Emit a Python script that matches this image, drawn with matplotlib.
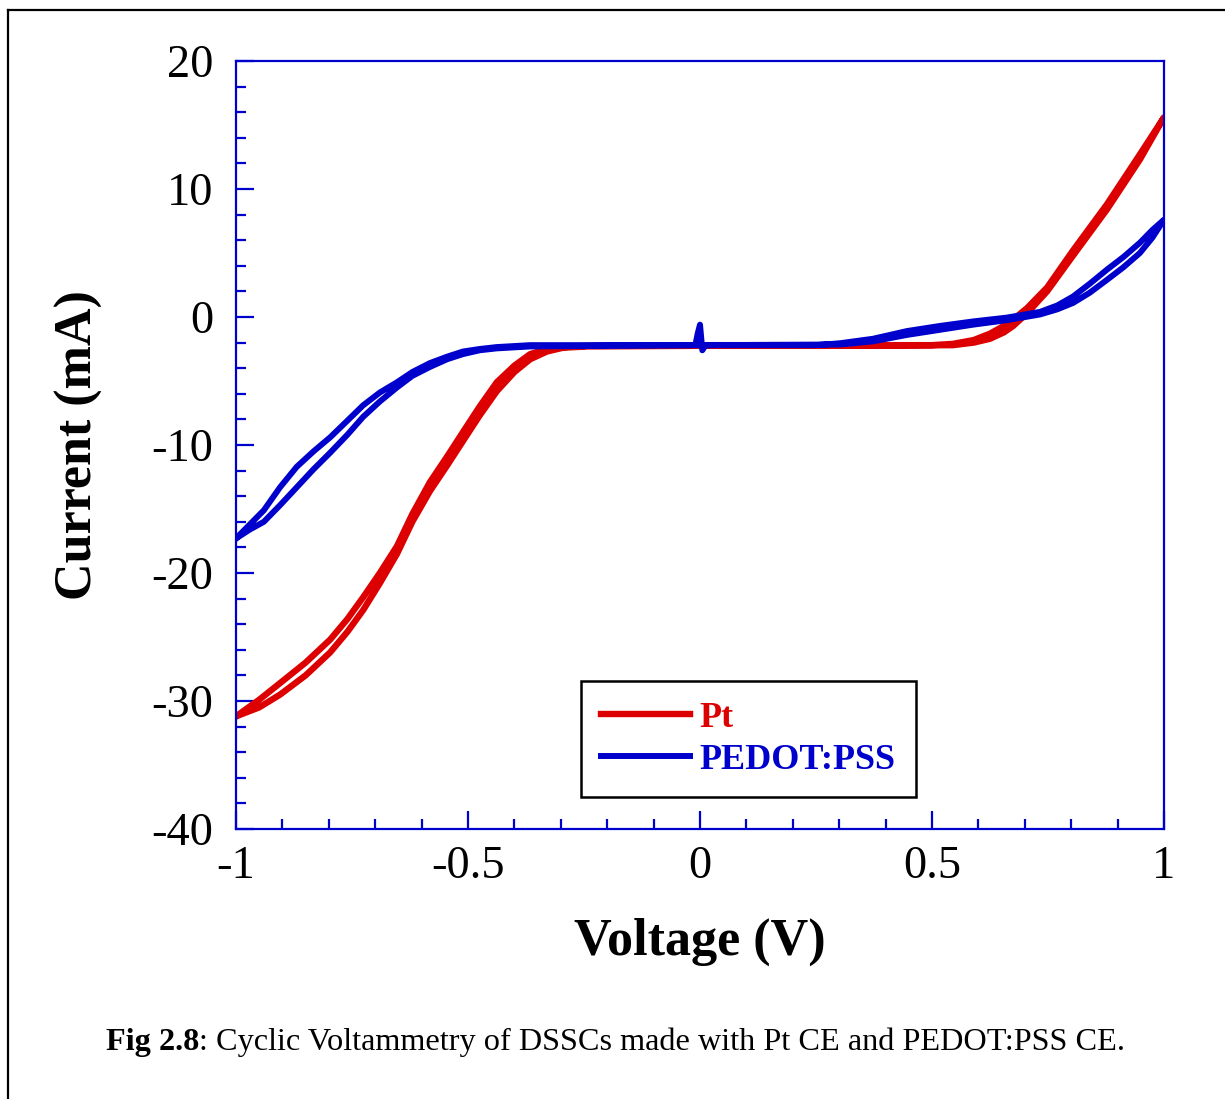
import numpy as np
import matplotlib.pyplot as plt
from matplotlib.lines import Line2D

plt.rcParams['font.family'] = 'Liberation Serif'
plt.rcParams['axes.unicode_minus'] = False

RED = '#dd0000'
BLUE = '#0000cc'

# Pt counter electrode, sweep -1 -> 1 V
pt_v_fwd = [-1.0, -0.95, -0.905, -0.85, -0.797, -0.76, -0.726, -0.69, -0.653, -0.62,
            -0.582, -0.545, -0.511, -0.475, -0.438, -0.40, -0.366, -0.33, -0.295, -0.243,
            0.0, 0.3, 0.545, 0.59, 0.625, 0.655, 0.675, 0.705, 0.748, 0.804, 0.877, 0.948, 1.0]
pt_i_fwd = [-31.2, -30.5, -29.5, -28.0, -26.2, -24.6, -22.9, -20.8, -18.5, -16.0,
            -13.6, -11.6, -9.7, -7.7, -5.8, -4.3, -3.3, -2.7, -2.4, -2.3,
            -2.25, -2.25, -2.2, -2.0, -1.7, -1.2, -0.7, 0.3, 2.0, 4.8, 8.4, 12.3, 15.6]

# Pt, sweep 1 -> -1 V
pt_v_rev = [1.0, 0.948, 0.877, 0.804, 0.748, 0.705, 0.675, 0.655, 0.625, 0.59, 0.545, 0.5,
            0.0, -0.243, -0.295, -0.33, -0.366, -0.40, -0.438, -0.475, -0.511, -0.545,
            -0.582, -0.62, -0.653, -0.69, -0.726, -0.76, -0.797, -0.85, -0.905, -0.95, -1.0]
pt_i_rev = [15.6, 12.7, 8.8, 5.2, 2.3, 0.7, -0.2, -0.7, -1.3, -1.8, -2.1, -2.2,
            -2.2, -2.25, -2.35, -2.5, -2.9, -3.8, -5.1, -7.0, -9.0, -10.9,
            -12.9, -15.4, -17.9, -20.0, -21.9, -23.6, -25.2, -27.0, -28.6, -29.9, -31.2]

# PEDOT:PSS counter electrode, sweep -1 -> 1 V
pedot_v_fwd = [-1.0, -0.97, -0.94, -0.905, -0.869, -0.833, -0.797, -0.76, -0.726, -0.69,
               -0.653, -0.62, -0.582, -0.545, -0.511, -0.475, -0.438, -0.366, -0.01, -0.005,
               0.0, 0.005, 0.012, 0.302, 0.373, 0.446, 0.517, 0.588, 0.661, 0.733,
               0.77, 0.804, 0.84, 0.877, 0.913, 0.948, 0.975, 1.0]
pedot_i_fwd = [-17.3, -16.6, -16.0, -14.7, -13.3, -11.9, -10.6, -9.2, -7.8, -6.6,
               -5.5, -4.6, -3.9, -3.3, -2.9, -2.6, -2.45, -2.3, -2.2, -1.3,
               -0.6, -2.6, -2.2, -2.15, -1.9, -1.4, -1.0, -0.6, -0.25, 0.2,
               0.6, 1.1, 1.9, 2.9, 3.9, 5.0, 6.2, 7.6]

# PEDOT:PSS, sweep 1 -> -1 V
pedot_v_rev = [1.0, 0.975, 0.948, 0.913, 0.877, 0.84, 0.804, 0.77, 0.733, 0.661, 0.588,
               0.517, 0.446, 0.373, 0.302, 0.25, 0.0, -0.366, -0.438, -0.475, -0.511,
               -0.545, -0.582, -0.62, -0.653, -0.69, -0.726, -0.76, -0.797, -0.833,
               -0.869, -0.905, -0.94, -0.97, -1.0]
pedot_i_rev = [7.6, 6.8, 5.8, 4.7, 3.7, 2.6, 1.6, 0.9, 0.4, -0.05, -0.35,
               -0.7, -1.1, -1.7, -2.05, -2.2, -2.2, -2.2, -2.35, -2.5, -2.7,
               -3.1, -3.6, -4.3, -5.1, -5.9, -6.9, -8.1, -9.4, -10.5,
               -11.7, -13.3, -15.1, -16.2, -17.3]

x_ticks = [-1, -0.5, 0, 0.5, 1]
x_ticklabels = ['-1', '-0.5', '0', '0.5', '1']
y_ticks = [-40, -30, -20, -10, 0, 10, 20]

fig = plt.figure(figsize=(12.25, 10.99), dpi=100)
ax = fig.add_axes([236 / 1225, 1 - 829 / 1099, 928 / 1225, 768 / 1099])

ax.plot(pt_v_fwd + pt_v_rev, pt_i_fwd + pt_i_rev, color=RED, lw=4.6,
        solid_joinstyle='round', label='Pt')
ax.plot(pedot_v_fwd + pedot_v_rev, pedot_i_fwd + pedot_i_rev, color=BLUE, lw=4.3,
        solid_joinstyle='round', label='PEDOT:PSS')

ax.set_xlim(-1, 1)
ax.set_ylim(-40, 20)
ax.set_xticks(x_ticks)
ax.set_xticklabels(x_ticklabels)
ax.set_yticks(y_ticks)
ax.set_xticks(np.arange(-1, 1.01, 0.1), minor=True)
ax.set_yticks(np.arange(-40, 20.1, 2), minor=True)

for s in ax.spines.values():
    s.set_color(BLUE)
    s.set_linewidth(1.6)

ax.tick_params(which='both', direction='in', color=BLUE, width=1.6,
               top=False, right=False, labelsize=33.5)
ax.tick_params(which='major', length=13)
ax.tick_params(which='minor', length=7.5)
ax.tick_params(axis='y', which='major', pad=16.5)
ax.tick_params(axis='x', which='major', pad=12)

ax.set_xlabel('Voltage (V)', fontsize=37.5, fontweight='bold')
ax.set_ylabel('Current (mA)', fontsize=37.5, fontweight='bold')
ax.xaxis.set_label_coords(0.5, -0.116)
ax.yaxis.set_label_coords(-0.143, 0.5)

leg = ax.legend(loc='lower left', bbox_to_anchor=(0.372, 0.042), borderaxespad=0,
                fancybox=False, edgecolor='black', framealpha=1,
                prop={'size': 26, 'weight': 'bold'}, labelcolor='linecolor',
                handlelength=2.45, handletextpad=0.28, labelspacing=0.25,
                borderpad=0.55)
leg.get_frame().set_linewidth(1.8)

# page frame, cut off at right and bottom
fig.add_artist(Line2D([8 / 1225, 8 / 1225], [0, 1 - 10 / 1099],
                      transform=fig.transFigure, color='black', lw=1.6))
fig.add_artist(Line2D([8 / 1225, 1], [1 - 10 / 1099, 1 - 10 / 1099],
                      transform=fig.transFigure, color='black', lw=1.6))

cap1 = fig.text(106 / 1225, 1 - 1050 / 1099, 'Fig 2.8', fontsize=23.2,
                fontweight='bold', va='baseline', ha='left')
ax.annotate(': Cyclic Voltammetry of DSSCs made with Pt CE and PEDOT:PSS CE.',
            xy=(1, 0), xycoords=cap1, fontsize=23.2, va='bottom', ha='left',
            annotation_clip=False)

fig.savefig('out.png', dpi=100)
